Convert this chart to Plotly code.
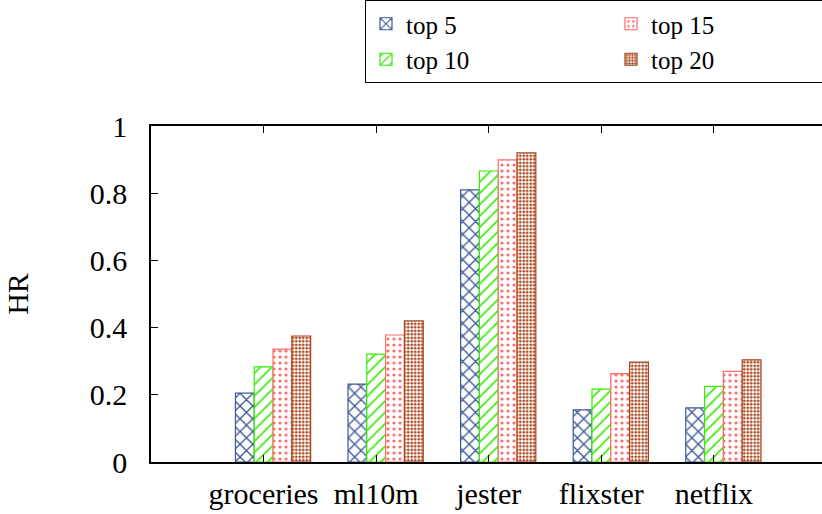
import plotly.graph_objects as go

categories = ["groceries", "ml10m", "jester", "flixster", "netflix"]
series_names = ["top 5", "top 10", "top 15", "top 20"]
top5 = [0.205, 0.232, 0.810, 0.155, 0.161]
top10 = [0.283, 0.321, 0.866, 0.217, 0.225]
top15 = [0.336, 0.378, 0.899, 0.263, 0.270]
top20 = [0.375, 0.420, 0.920, 0.297, 0.304]
y_ticks = [0, 0.2, 0.4, 0.6, 0.8, 1]

series_values = [top5, top10, top15, top20]
colors = ["#3d5a98", "#33ee00", "#ff6b6b", "#a8441c"]
shapes = ["x", "/", ".", "."]
psizes = [9, 8, 6, 3.5]
psolid = [0.28, 0.2, 0.22, 0.5]
ranks = [1, 3, 2, 4]

FONT = "Liberation Serif"
BAR_W = 0.167
START = -0.25

fig = go.Figure()
xs = list(range(len(categories)))
for k, (name, vals) in enumerate(zip(series_names, series_values)):
    fig.add_trace(go.Bar(
        x=xs, y=vals, name=name,
        width=BAR_W, offset=START + k * BAR_W,
        legendrank=ranks[k],
        marker=dict(
            color="white",
            line=dict(color=colors[k], width=1.2),
            pattern=dict(shape=shapes[k], fgcolor=colors[k], bgcolor="white",
                         size=psizes[k], solidity=psolid[k], fillmode="replace"),
        ),
    ))

fig.update_layout(
    width=822, height=514,
    margin=dict(l=151, r=0, t=126, b=52, autoexpand=False),
    paper_bgcolor="white", plot_bgcolor="white",
    barmode="overlay",
    font=dict(family=FONT, size=30, color="black"),
    showlegend=True,
    legend=dict(
        orientation="h", x=(365 - 151) / 671, xanchor="left",
        y=1 + 126 / 336, yanchor="top",
        entrywidth=200, entrywidthmode="pixels",
        bordercolor="black", borderwidth=1, bgcolor="white",
        font=dict(family=FONT, size=25),
        traceorder="normal",
    ),
    xaxis=dict(
        range=[-1, 4.96], tickvals=xs, ticktext=categories,
        showline=True, linecolor="black", linewidth=1.5, mirror="ticks",
        ticks="inside", ticklen=7, tickcolor="black", tickwidth=1,
        showgrid=False, zeroline=False, ticklabelstandoff=4,
        tickfont=dict(family=FONT, size=30),
    ),
    yaxis=dict(
        range=[0, 1], tickvals=y_ticks,
        ticktext=[("%g" % v) for v in y_ticks],
        showline=True, linecolor="black", linewidth=1.5, mirror=False,
        ticks="inside", ticklen=7, tickcolor="black", tickwidth=1,
        showgrid=False, zeroline=False, ticklabelstandoff=16,
        tickfont=dict(family=FONT, size=30),
        title=dict(text="HR", standoff=52, font=dict(family=FONT, size=30)),
    ),
)

fig.write_html("out.html", config={"displayModeBar": False},
               post_script="document.body.style.margin='0';")
